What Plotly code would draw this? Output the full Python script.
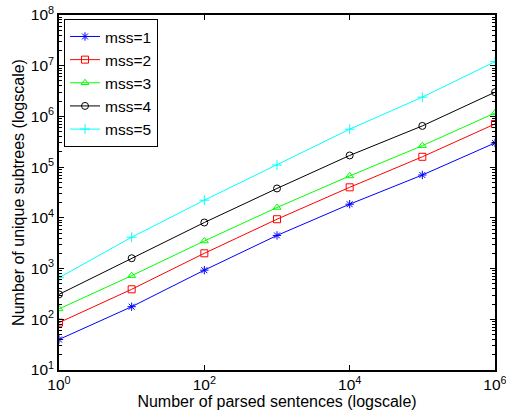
import plotly.graph_objects as go

x_vals = [1, 10, 100, 1e3, 1e4, 1e5, 1e6]
mss1 = [40, 177, 930, 4500, 18600, 70000, 300000]
mss2 = [86, 390, 2000, 9400, 40000, 160000, 710000]
mss3 = [160, 725, 3500, 16000, 67000, 265000, 1.17e6]
mss4 = [310, 1600, 8100, 38000, 170000, 650000, 3.0e6]
mss5 = [660, 4150, 22300, 110000, 560000, 2.4e6, 1.2e7]

names = ["mss=1", "mss=2", "mss=3", "mss=4", "mss=5"]
series = [mss1, mss2, mss3, mss4, mss5]
colors = ["#0000FF", "#FF0000", "#00FF00", "#000000", "#00FFFF"]
symbols = ["asterisk-open", "square-open", "triangle-up-open", "circle-open", "cross-thin-open"]

x_tickvals = [1, 100, 1e4, 1e6]
x_ticktext = ["10<sup>0</sup>", "10<sup>2</sup>", "10<sup>4</sup>", "10<sup>6</sup>"]
y_tickvals = [10, 100, 1e3, 1e4, 1e5, 1e6, 1e7, 1e8]
y_ticktext = ["10<sup>%d</sup>" % i for i in range(1, 9)]

fig = go.Figure()
for n, s, c, m in zip(names, series, colors, symbols):
    fig.add_trace(go.Scatter(
        x=x_vals, y=s, name=n, mode="lines+markers",
        line=dict(color=c, width=1),
        marker=dict(symbol=m, size=7, color=c, line=dict(color=c, width=1)),
    ))

fam = "Liberation Sans, Arial, sans-serif"
fig.update_layout(
    width=506, height=415,
    margin=dict(l=59, r=11, t=15, b=45),
    paper_bgcolor="white", plot_bgcolor="white",
    font=dict(family=fam, size=16, color="black"),
    showlegend=True,
    legend=dict(x=0.0115, y=0.989, xanchor="left", yanchor="top",
                bgcolor="white", bordercolor="black", borderwidth=1,
                font=dict(family=fam, size=15.5, color="black"),
                tracegroupgap=0, itemwidth=30),
)
fig.update_xaxes(
    type="log", range=[0, 6], automargin=False, ticklabeloverflow="allow",
    tickvals=x_tickvals, ticktext=x_ticktext,
    ticks="inside", ticklen=5, tickcolor="black",
    showline=True, linecolor="black", linewidth=1.5, mirror="allticks",
    showgrid=False, zeroline=False,
    title=dict(text="Number of parsed sentences (logscale)", standoff=0, font=dict(family=fam, size=16)),
    tickfont=dict(family=fam, size=15.5),
)
fig.update_yaxes(
    type="log", range=[1, 8], automargin=False, ticklabeloverflow="allow",
    tickvals=y_tickvals, ticktext=y_ticktext,
    ticks="inside", ticklen=5, tickcolor="black",
    showline=True, linecolor="black", linewidth=1.5, mirror="allticks",
    showgrid=False, zeroline=False,
    minor=dict(ticks="inside", ticklen=3, tickcolor="black", showgrid=False,
               tickvals=[k * 10 ** e for e in range(1, 8) for k in range(2, 10)]),
    title=dict(text="Number of unique subtrees (logscale)", standoff=2, font=dict(family=fam, size=16)),
    tickfont=dict(family=fam, size=15.5),
)
fig.write_html("out.html", config={"displayModeBar": False},
               post_script="document.body.style.margin='0';")
